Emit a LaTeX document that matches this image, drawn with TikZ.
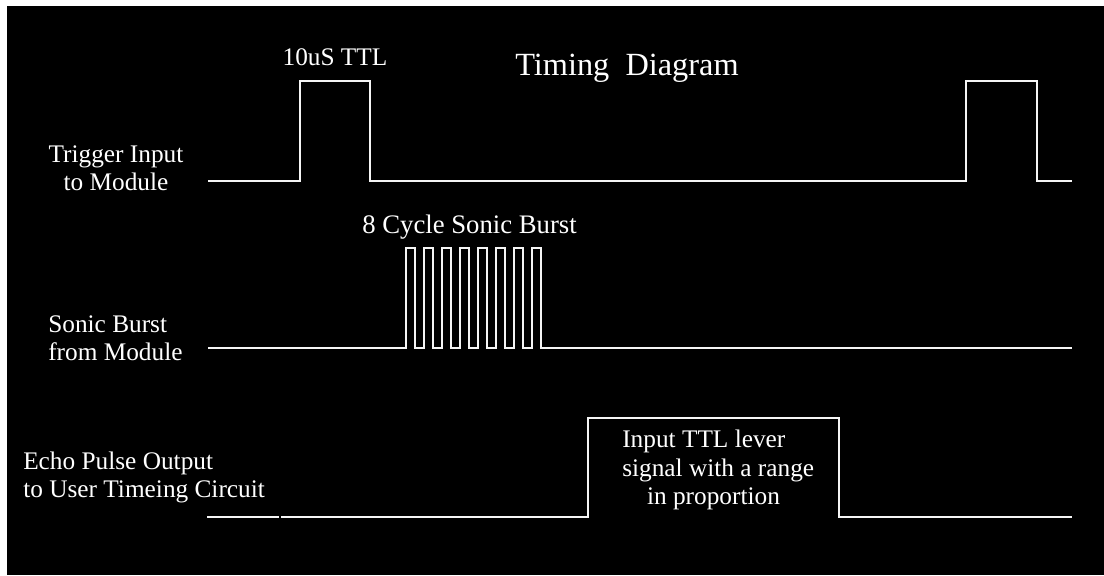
\documentclass[tikz,border=0pt]{standalone}
\usepackage{fontspec}
\setmainfont{Liberation Serif}
\usetikzlibrary{positioning}

\tikzset{
  wave/.style={draw=white!92!gray, line width=1.4pt, line join=miter},
  sigtext/.style={text=white, inner sep=0pt, font=\fontsize{18}{20}\selectfont},
}

\begin{document}
\begin{tikzpicture}[x=0.025cm, y=-0.025cm]
    % Frame
    \useasboundingbox (0,0) rectangle (1104,575);
    \fill[white] (0,0) rectangle (1104,575);
    \fill[black] (7,6) rectangle (1104,575);

    % Title
    \node[sigtext, anchor=base west, font=\fontsize{23}{26}\selectfont] (title) at (515,75) {Timing\ \ Diagram};

    % Trigger input
    \node[sigtext, align=center] (trigLbl) at (116,168) {Trigger Input\\to Module};
    \draw[wave] (208,181) -- (300,181) -- (300,81) -- (370,81) -- (370,181)
        -- (966,181) -- (966,81) -- (1037,81) -- (1037,181) -- (1072,181);
    \node[sigtext, anchor=base] (ttlLbl) at (335,65) {10uS TTL};

    % Sonic burst
    \node[sigtext, anchor=west, align=left] (burstLbl) at (48,338) {Sonic Burst\\from Module};
    \draw[wave] (208,348) \foreach \i in {0,...,7} {
        -- ({406+18*\i},348) -- ({406+18*\i},248) -- ({415+18*\i},248) -- ({415+18*\i},348)
      } -- (1072,348);
    \node[sigtext, anchor=base west, font=\fontsize{19}{21}\selectfont] (cycLbl) at (362,233) {8 Cycle Sonic Burst};

    % Echo pulse
    \node[sigtext, anchor=west, align=left] (echoLbl) at (23,477) {Echo Pulse Output\\to User Timeing Circuit};
    \draw[wave] (207,517) -- (279,517);
    \draw[wave] (281,517) -- (588,517) -- (588,418) -- (839,418) -- (839,517) -- (1072,517);
    \node[sigtext, anchor=west, align=left] (echoTxt) at (622,470)
        {Input TTL lever\\signal with a range\\\hspace*{0.62cm}in proportion};
\end{tikzpicture}
\end{document}
